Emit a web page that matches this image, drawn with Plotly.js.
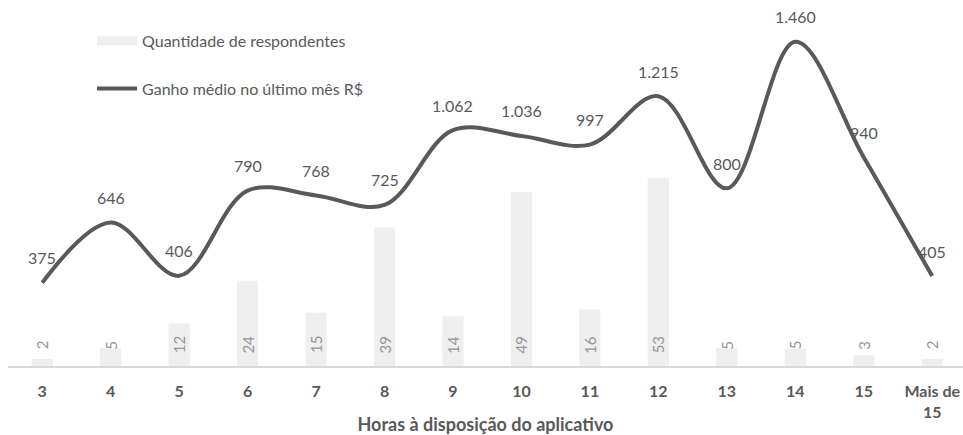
<!DOCTYPE html>
<html>
<head>
<meta charset="utf-8">
<script src="https://cdn.plot.ly/plotly-3.0.1.min.js"></script>
<style>html,body{margin:0;padding:0;background:#fff;}#chart{width:963px;height:435px;}</style>
</head>
<body>
<div id="chart"></div>
<script>
const categories = ["3","4","5","6","7","8","9","10","11","12","13","14","15","Mais de<br>15"];
const respondentes = [2,5,12,24,15,39,14,49,16,53,5,5,3,2];
const ganhoMedio = [375,646,406,790,768,725,1062,1036,997,1215,800,1460,940,405];

const FONT = "Lato, 'Open Sans', sans-serif";
const TXT = "#595959";
const BARCOL = "#efefef";

function fmt(v){ return String(v).replace(/\B(?=(\d{3})+(?!\d))/g, "."); }

const traces = [
  {
    type: "bar", name: "Quantidade de respondentes", showlegend: false,
    x: categories, y: respondentes, yaxis: "y",
    marker: {color: BARCOL}, width: 0.31, hoverinfo: "skip"
  },
  {
    type: "scatter", mode: "lines", name: "Quantidade de respondentes", legendgroup: "a",
    x: [null], y: [null], yaxis: "y",
    line: {color: BARCOL, width: 9}, hoverinfo: "skip"
  },
  {
    type: "scatter", mode: "lines", name: "Ganho médio no último mês R$", legendgroup: "b",
    x: categories, y: ganhoMedio, yaxis: "y2",
    line: {color: "#595959", width: 4, shape: "spline", smoothing: 1}, hoverinfo: "skip"
  }
];

const annotations = [];
categories.forEach((c, i) => {
  annotations.push({
    x: i, y: ganhoMedio[i], xref: "x", yref: "y2", text: fmt(ganhoMedio[i]),
    showarrow: false, yshift: 25, font: {family: FONT, size: 16, color: TXT}
  });
  annotations.push({
    x: i, y: 0, xref: "x", yref: "y", text: String(respondentes[i]),
    showarrow: false, yshift: 21, textangle: -90, font: {family: FONT, size: 15, color: "#969696"}
  });
});

const layout = {
  width: 963, height: 435,
  margin: {l: 8, r: 0, t: 0, b: 69},
  paper_bgcolor: "#fff", plot_bgcolor: "#fff",
  font: {family: FONT, color: TXT},
  showlegend: true,
  legend: {
    x: 0.088, y: 0.935, xanchor: "left", yanchor: "top",
    traceorder: "grouped", tracegroupgap: 24, itemwidth: 40,
    font: {family: FONT, size: 16, color: TXT}, bgcolor: "rgba(0,0,0,0)"
  },
  xaxis: {
    type: "category", range: [-0.5, 13.45],
    showline: true, linecolor: "#d9d9d9", linewidth: 1.5,
    showgrid: false, zeroline: false, ticks: "", ticklabelstandoff: 10,
    tickfont: {family: FONT, size: 16, color: TXT, weight: "bold"},
    title: {text: "Horas à disposição do aplicativo", standoff: 8,
            font: {family: FONT, size: 18, color: TXT, weight: "bold"}}
  },
  yaxis: {range: [0, 103.1], visible: false, fixedrange: true},
  yaxis2: {range: [0, 1648], overlaying: "y", visible: false, fixedrange: true},
  annotations: annotations,
  bargap: 0.69
};

Plotly.newPlot("chart", traces, layout, {displayModeBar: false, staticPlot: true});
</script>
</body>
</html>
